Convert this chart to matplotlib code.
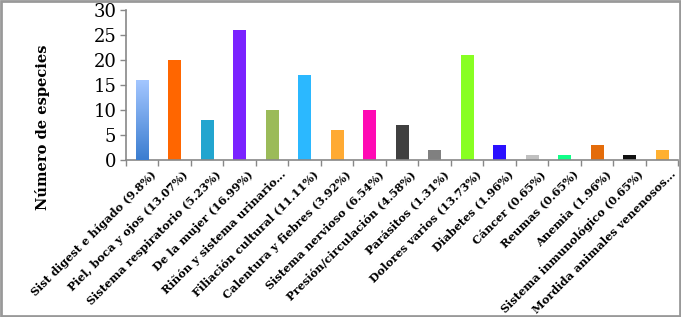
import matplotlib.pyplot as plt
import numpy as np
from matplotlib.patches import Rectangle

categories = [
    'Sist digest e hígado (9.8%)', 'Piel, boca y ojos (13.07%)',
    'Sistema respiratorio (5.23%)', 'De la mujer (16.99%)',
    'Riñón y sistema urinario...', 'Filiación cultural (11.11%)',
    'Calentura y fiebres (3.92%)', 'Sistema nervioso (6.54%)',
    'Presión/circulación (4.58%)', 'Parásitos (1.31%)',
    'Dolores varios (13.73%)', 'Diabetes (1.96%)', 'Cáncer (0.65%)',
    'Reumas (0.65%)', 'Anemia (1.96%)', 'Sistema inmunológico (0.65%)',
    'Mordida animales venenosos...',
]
species = [16, 20, 8, 26, 10, 17, 6, 10, 7, 2, 21, 3, 1, 1, 3, 1, 2]
colors = ['#5b93e0', '#ff6600', '#22a5cf', '#7a22ff', '#9bbb59', '#2bb8ff',
          '#ffaa33', '#ff0ab4', '#404040', '#808080', '#88ff22', '#2a10ff',
          '#c0c0c0', '#11ff88', '#e46c0a', '#111111', '#ffb030']

fig = plt.figure(figsize=(6.81, 3.17), dpi=100)
ax = fig.add_axes([0.185, 0.495, 0.811, 0.473])

x = np.arange(len(categories))
bars = ax.bar(x, species, width=0.4, color=colors, zorder=2)

# first bar has a vertical gradient (light on top, darker at the bottom)
b = bars[0]
grad = np.linspace(0, 1, 100).reshape(-1, 1)
cmap = plt.matplotlib.colors.LinearSegmentedColormap.from_list('g', ['#3b7dd0', '#a3c6ff'])
im = ax.imshow(grad, cmap=cmap, origin='lower', aspect='auto', zorder=3,
               extent=[b.get_x(), b.get_x() + b.get_width(), 0, b.get_height()])
im.set_clip_path(b)

ax.set_xlim(-0.5, len(categories) - 0.5)
ax.set_ylim(0, 30)
ax.set_yticks(range(0, 31, 5))
ax.set_xticks(np.arange(len(categories) + 1) - 0.5)
ax.set_xticklabels([])
ax.tick_params(axis='both', color='#888888', length=4, width=1)
ax.tick_params(axis='y', labelsize=13, pad=3)
for t in ax.get_yticklabels():
    t.set_family('DejaVu Serif')

for s in ['top', 'right']:
    ax.spines[s].set_visible(False)
for s in ['left', 'bottom']:
    ax.spines[s].set_color('#888888')
    ax.spines[s].set_linewidth(1.2)

for xi, lab in zip(x, categories):
    ax.text(xi + 0.25, -1.7, lab, rotation=45, ha='right', va='top',
            rotation_mode='anchor', fontsize=8.2, fontweight='bold',
            family='DejaVu Serif')

ax.set_ylabel('Número de especies', fontsize=10.5, fontweight='bold',
              family='DejaVu Serif')
ax.yaxis.set_label_coords(-0.138, 0.22)

fig.patches.append(Rectangle((0.002, 0.004), 0.996, 0.992, transform=fig.transFigure,
                             fill=False, edgecolor='#999999', linewidth=2))

fig.savefig('out.png', dpi=100)
